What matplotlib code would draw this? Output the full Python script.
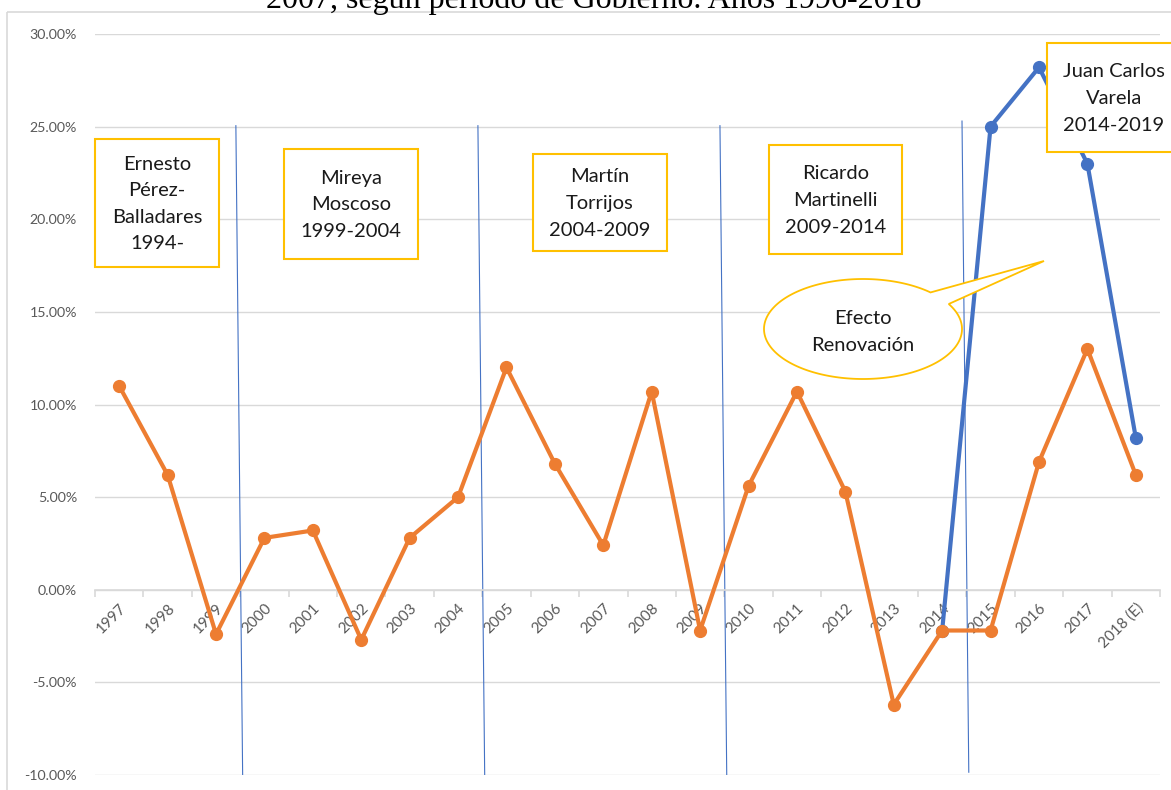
import numpy as np
import matplotlib.pyplot as plt
from matplotlib.patches import Rectangle, Polygon
from matplotlib.transforms import Affine2D

anios = ['1997', '1998', '1999', '2000', '2001', '2002', '2003', '2004', '2005', '2006',
         '2007', '2008', '2009', '2010', '2011', '2012', '2013', '2014', '2015', '2016',
         '2017', '2018 (E)']
# crecimiento anual (%)
sin_renovacion = [11.0, 6.2, -2.4, 2.8, 3.2, -2.7, 2.8, 5.0, 12.0, 6.8,
                  2.4, 10.7, -2.2, 5.6, 10.7, 5.3, -6.2, -2.2, -2.2, 6.9,
                  13.0, 6.2]
anios_renovacion = ['2014', '2015', '2016', '2017', '2018 (E)']
con_renovacion = [-2.2, 25.0, 28.2, 23.0, 8.2]

gobiernos = ['Ernesto\nPérez-\nBalladares\n1994-', 'Mireya\nMoscoso\n1999-2004',
             'Martín\nTorrijos\n2004-2009', 'Ricardo\nMartinelli\n2009-2014',
             'Juan Carlos\nVarela\n2014-2019']
cambio_gobierno = ['1999', '2004', '2009', '2014']

NARANJA = '#ED7D31'
AZUL = '#4472C4'
DORADO = '#FFC000'
GRIS = '#595959'

plt.rcParams['font.family'] = ['Lato', 'DejaVu Sans']

W, H = 1171, 790
fig = plt.figure(figsize=(W / 100, H / 100), dpi=100)
ax = fig.add_axes([95 / W, 15 / H, 1065 / W, 741 / H])

# pixel coordinates measured from the top-left corner
px = Affine2D().scale(1, -1).translate(0, H)

x = np.arange(len(anios))
xr = [anios.index(a) for a in anios_renovacion]
y_sin = np.array(sin_renovacion) / 100
y_con = np.array(con_renovacion) / 100

ax.plot(xr, y_con, color=AZUL, lw=3, marker='o', ms=8.5, zorder=3)
ax.plot(x, y_sin, color=NARANJA, lw=3, marker='o', ms=8.5, zorder=4)

ax.set_xlim(-0.5, len(anios) - 0.5)
ax.set_ylim(-0.10, 0.30)
ax.set_yticks(np.arange(-0.10, 0.301, 0.05))
ax.set_yticklabels([f'{v * 100:.2f}%' for v in np.arange(-0.10, 0.301, 0.05)])
ax.yaxis.grid(True, color='#D9D9D9', lw=1)
ax.set_axisbelow(True)
ax.tick_params(axis='y', length=0, pad=13, labelsize=10.2, labelcolor=GRIS)

# x axis crosses at 0 with ticks between categories
for s in ['left', 'right', 'top']:
    ax.spines[s].set_visible(False)
ax.spines['bottom'].set_position(('data', 0))
ax.spines['bottom'].set_color('#D9D9D9')
ax.spines['bottom'].set_linewidth(1.2)
ax.set_xticks(x)
ax.set_xticklabels(anios, rotation=45, ha='right', rotation_mode='anchor')
ax.set_xticks(np.arange(-0.5, len(anios)), minor=True)
ax.tick_params(axis='x', which='major', length=0, pad=8, labelsize=11, labelcolor=GRIS)
ax.tick_params(axis='x', which='minor', length=5, color='#D9D9D9', width=1.2)

# separators between government periods
for i, a in enumerate(cambio_gobierno):
    b = anios.index(a) + 0.5
    top = 0.253 if i == 3 else 0.2505
    bot = -0.0985 if i == 3 else -0.10
    ax.plot([b - 0.09, b + 0.05], [top, bot], color=AZUL, lw=0.8, zorder=2)

# government boxes
cajas = [(95, 139, 219, 267), (284, 149, 418, 259), (533, 154, 667, 251),
         (769, 145, 902, 254), (1047, 43, 1180, 152)]
for txt, (x0, y0, x1, y1) in zip(gobiernos, cajas):
    fig.patches.append(Rectangle((x0, y0), x1 - x0, y1 - y0, transform=px,
                                 facecolor='white', edgecolor=DORADO, lw=1.5, zorder=5))
    cx = (x0 + x1) / 2 if x1 < W else 1114
    fig.text(cx, (y0 + y1) / 2 + 1, txt, transform=px, ha='center', va='center',
             fontsize=14.5, linespacing=1.68, color='#1a1a1a', zorder=6)

# speech bubble
cxe, cye, a, b = 863, 329, 99, 50
t1, t2 = np.deg2rad(47), np.deg2rad(30)
ts = np.linspace(t1, t2 + 2 * np.pi, 200)
pts = [(cxe + a * np.cos(t), cye - b * np.sin(t)) for t in ts]
pts.append((1044, 261))
fig.patches.append(Polygon(pts, closed=True, transform=px, facecolor='white',
                           edgecolor=DORADO, lw=1.3, zorder=5))
fig.text(cxe, 332, 'Efecto\nRenovación', transform=px, ha='center', va='center',
         fontsize=14.5, linespacing=1.68, color='#1a1a1a', zorder=6)

# chart frame and title
fig.patches.append(Rectangle((7, 12), 1180, 800, transform=px, fill=False,
                             edgecolor='#D9D9D9', lw=1.2))
fig.text(594, 8, '2007, según período de Gobierno. Años 1996-2018', transform=px,
         ha='center', va='baseline', fontsize=23, family='Liberation Serif')

fig.savefig('out.png', dpi=100)
